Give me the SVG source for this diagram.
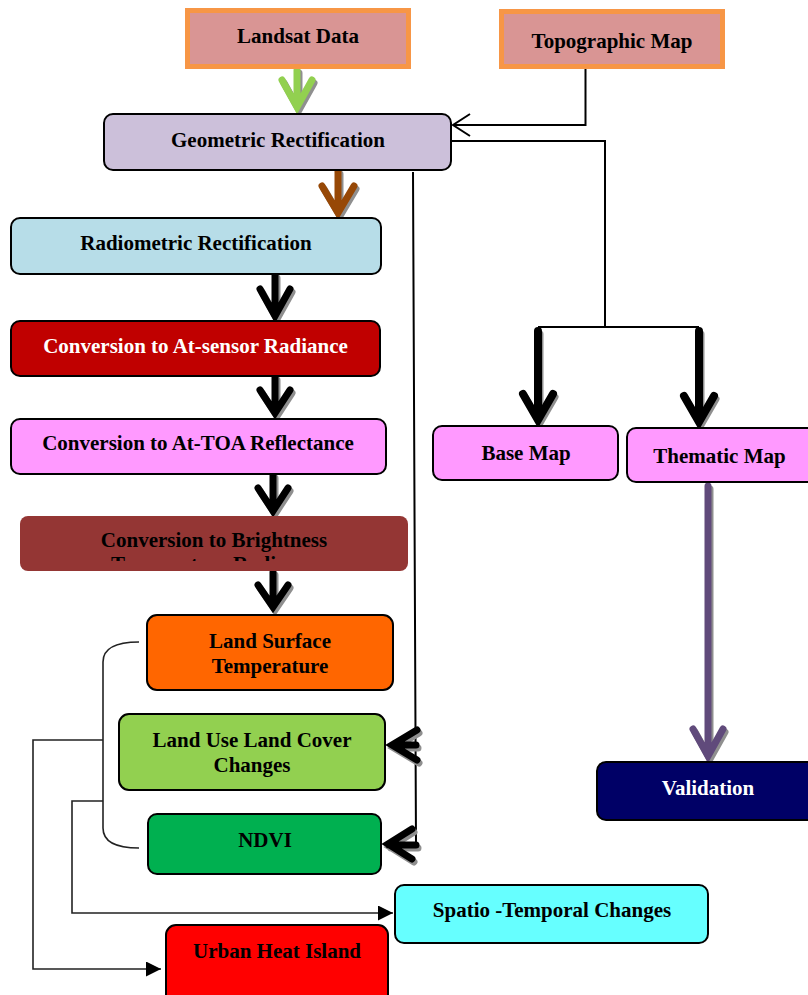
<svg xmlns="http://www.w3.org/2000/svg" width="808" height="995" viewBox="0 0 808 995">
<defs>
<style>
.t{font-family:"Liberation Serif","Times New Roman",serif;font-weight:bold;font-size:21px;text-anchor:middle;fill:#000}
.w{fill:#fff}
.box{stroke:#000;stroke-width:2}
.src{fill:#D99594;stroke:#F79646;stroke-width:5}
.thin{fill:none;stroke:#000;stroke-width:2}
.br{fill:none;stroke:#222;stroke-width:1.6}
.ar{fill:none;stroke-width:7;stroke-linecap:round;stroke-linejoin:miter;stroke-miterlimit:10}
.sh{stroke:#8f8f8f}
.blk{stroke:#000}
</style>
<marker id="tri" markerWidth="16" markerHeight="16" refX="15" refY="7.5" orient="auto" markerUnits="userSpaceOnUse">
<path d="M0,0 L15,7.5 L0,15 Z" fill="#000"/>
</marker>
<clipPath id="clipB"><rect x="20" y="516" width="388" height="45"/></clipPath>
</defs>
<rect width="808" height="995" fill="#fff"/>

<g id="connectors">
<path class="thin" d="M585.5,57 V125 H453"/>
<path class="thin" d="M470,114 L453,125 L470,136"/>
<path class="thin" d="M449,141 H605 V327"/>
<path class="thin" d="M538,327 H699"/>
<path class="thin" d="M413,172 L416,846 H400"/>
<path class="br" d="M139,642 C115,642 103,648 103,662 V828 C103,842 115,848 139,848"/>
<path class="br" d="M103,740 H33 V969 H161" marker-end="url(#tri)"/>
<path class="br" d="M103,801 H72 V913 H393" marker-end="url(#tri)"/>

<g class="ar sh" transform="translate(2,3)">
<path d="M297,70 V106 M282,80 L297,107 L312,80"/>
<path d="M338,171 V212 M322,186 L338,213 L354,186"/>
<path d="M275,275 V315 M260,289 L275,316 L290,289"/>
<path d="M275,377 V412 M260,390 L275,413 L290,390"/>
<path d="M273,475 V510 M258,488 L273,511 L288,488"/>
<path d="M273,572 V606 M258,585 L273,607 L288,585"/>
<path d="M538,331 V419 M523,394 L538,420 L553,394"/>
<path d="M699,331 V421 M684,396 L699,422 L714,396"/>
<path d="M708,486 V755 M693,729 L708,756 L723,729"/>
<path d="M416,745 H393 M417,730 L392,745 L417,760"/>
<path d="M416,845 H389 M412,829 L388,844 L412,859"/>
</g>
<path class="ar" stroke="#92D050" d="M297,70 V106 M282,80 L297,107 L312,80"/>
<path class="ar" stroke="#974806" d="M338,171 V212 M322,186 L338,213 L354,186"/>
<g class="ar blk">
<path d="M275,275 V315 M260,289 L275,316 L290,289"/>
<path d="M275,377 V412 M260,390 L275,413 L290,390"/>
<path d="M273,475 V510 M258,488 L273,511 L288,488"/>
<path d="M273,572 V606 M258,585 L273,607 L288,585"/>
<path d="M538,331 V419 M523,394 L538,420 L553,394" stroke-width="8"/>
<path d="M699,331 V421 M684,396 L699,422 L714,396" stroke-width="8"/>
<path d="M416,745 H393 M417,730 L392,745 L417,760"/>
<path d="M416,845 H389 M412,829 L388,844 L412,859"/>
</g>
<path class="ar" stroke="#604A7B" d="M708,486 V755 M693,729 L708,756 L723,729"/>
</g>

<g id="landsat">
<rect class="src" x="187.5" y="10.5" width="221" height="56"/>
<text class="t" x="298" y="43">Landsat Data</text>
</g>
<g id="topographic">
<rect class="src" x="501.5" y="11.5" width="221" height="55"/>
<text class="t" x="612" y="48">Topographic Map</text>
</g>
<g id="geometric">
<rect class="box" x="104" y="114" width="347" height="56" rx="9" fill="#CCC0DA"/>
<text class="t" x="278" y="147">Geometric Rectification</text>
</g>
<g id="radiometric">
<rect class="box" x="11" y="218" width="370" height="56" rx="9" fill="#B7DDE8"/>
<text class="t" x="196" y="250">Radiometric Rectification</text>
</g>
<g id="radiance">
<rect class="box" x="11" y="321" width="369" height="55" rx="9" fill="#C00000"/>
<text class="t w" x="195.5" y="353">Conversion to At-sensor Radiance</text>
</g>
<g id="toa">
<rect class="box" x="11" y="419" width="375" height="55" rx="9" fill="#FF99FF"/>
<text class="t" x="198" y="450">Conversion to At-TOA Reflectance</text>
</g>
<g id="brightness">
<rect x="20" y="516" width="388" height="55" rx="8" fill="#943634"/>
<g clip-path="url(#clipB)">
<text class="t" x="214" y="547">Conversion to Brightness</text>
<text class="t" x="214" y="571">Temperature Radiance</text>
</g>
</g>
<g id="lst">
<rect class="box" x="147" y="615" width="246" height="75" rx="10" fill="#FF6600"/>
<text class="t" x="270" y="648">Land Surface</text>
<text class="t" x="270" y="673">Temperature</text>
</g>
<g id="lulc">
<rect class="box" x="119" y="714" width="266" height="76" rx="10" fill="#92D050"/>
<text class="t" x="252" y="747">Land Use Land Cover</text>
<text class="t" x="252" y="772">Changes</text>
</g>
<g id="ndvi">
<rect class="box" x="148" y="814" width="233" height="60" rx="9" fill="#00B050"/>
<text class="t" x="265" y="847">NDVI</text>
</g>
<g id="basemap">
<rect class="box" x="433" y="426" width="185" height="54" rx="9" fill="#FF99FF"/>
<text class="t" x="526" y="460">Base Map</text>
</g>
<g id="thematic">
<rect class="box" x="627" y="428" width="190" height="54" rx="9" fill="#FF99FF"/>
<text class="t" x="719.5" y="463">Thematic Map</text>
</g>
<g id="validation">
<rect class="box" x="597" y="762" width="220" height="58" rx="9" fill="#000066"/>
<text class="t w" x="708" y="795">Validation</text>
</g>
<g id="spatio">
<rect class="box" x="395" y="885" width="313" height="58" rx="9" fill="#66FFFF"/>
<text class="t" x="552" y="917">Spatio -Temporal Changes</text>
</g>
<g id="uhi">
<rect class="box" x="166" y="925" width="222" height="80" rx="10" fill="#FF0000"/>
<text class="t" x="277" y="958">Urban Heat Island</text>
</g>
</svg>
